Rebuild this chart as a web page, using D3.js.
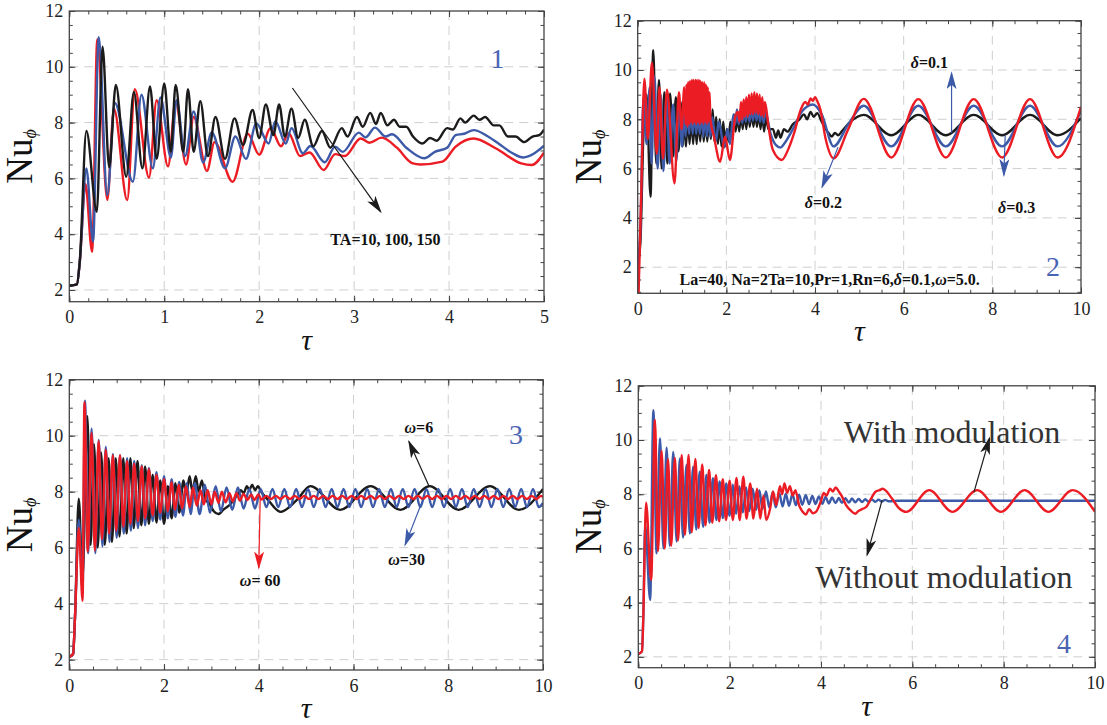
<!DOCTYPE html>
<html>
<head>
<meta charset="utf-8">
<script src="https://cdn.jsdelivr.net/npm/d3@7"></script>
<style>
  body { margin: 0; background: #fff; }
  svg  { display: block; font-family: "Liberation Serif", "Times New Roman", serif; }
</style>
</head>
<body>
<svg id="chart" width="1107" height="725"></svg>
<script>
/* ─── Data: [tau, Nu] pairs ─────────────────────────────────────────────── */

// Panel 1 : TA = 10 (black), 100 (blue), 150 (red)
const p1Black = [[0,2.15],[0.08,2.2],[0.11,3.0],[0.18,7.7],[0.29,4.8],[0.35,10.72],[0.42,6.4],[0.49,9.35],[0.60,6.06],[0.68,9.1],[0.77,6.36],[0.85,9.3],[0.92,6.7],[1.0,9.4],[1.07,6.95],[1.12,9.35],[1.2,6.95],[1.25,9.2],[1.31,6.95],[1.38,8.77],[1.46,6.8],[1.54,8.2],[1.64,6.7],[1.74,8.15],[1.83,7.2],[1.93,8.45],[2.0,7.45],[2.07,8.65],[2.15,7.55],[2.21,8.65],[2.27,7.5],[2.34,8.5],[2.41,7.45],[2.48,8.1],[2.57,7.15],[2.66,7.7],[2.75,7.1],[2.87,7.8],[2.93,7.5],[3.03,8.2],[3.09,7.85],[3.17,8.35],[3.23,7.95],[3.28,8.35],[3.35,7.9],[3.42,8.1],[3.48,7.85],[3.55,7.85],[3.62,7.5],[3.72,7.25],[3.8,7.45],[3.87,7.35],[3.98,7.8],[4.04,7.75],[4.12,8.15],[4.17,8.0],[4.26,8.25],[4.32,8.1],[4.38,8.2],[4.47,7.9],[4.53,7.9],[4.62,7.5],[4.7,7.5],[4.79,7.3],[4.88,7.5],[4.95,7.55],[5.0,7.75]];
const p1Blue  = [[0,2.15],[0.08,2.2],[0.11,3.0],[0.18,6.36],[0.25,3.73],[0.31,11.06],[0.4,5.4],[0.48,8.7],[0.67,5.88],[0.76,9.0],[0.88,6.36],[0.96,8.9],[1.07,6.75],[1.13,8.8],[1.22,6.8],[1.31,8.4],[1.41,6.57],[1.5,7.65],[1.64,6.36],[1.75,7.5],[1.86,6.7],[1.97,7.97],[2.1,7.25],[2.17,8.05],[2.28,7.25],[2.34,7.8],[2.46,6.9],[2.54,7.16],[2.69,6.58],[2.8,7.14],[2.88,6.95],[3.05,7.64],[3.12,7.47],[3.22,7.82],[3.33,7.5],[3.4,7.58],[3.55,7.1],[3.74,6.72],[3.85,6.95],[3.98,7.1],[4.07,7.55],[4.16,7.6],[4.26,7.73],[4.41,7.5],[4.52,7.25],[4.67,6.9],[4.78,6.75],[4.9,6.9],[5.0,7.17]];
const p1Red   = [[0,2.15],[0.08,2.2],[0.11,3.0],[0.17,5.8],[0.24,3.37],[0.295,10.99],[0.40,5.23],[0.47,8.5],[0.61,5.22],[0.69,9.2],[0.84,6.03],[0.92,8.8],[1.04,6.43],[1.12,8.75],[1.23,6.5],[1.31,8.2],[1.45,6.27],[1.53,7.3],[1.72,5.88],[1.88,7.6],[2.0,6.85],[2.12,7.8],[2.23,7.15],[2.31,7.62],[2.43,6.8],[2.53,6.93],[2.68,6.3],[2.8,6.87],[2.9,6.8],[3.07,7.43],[3.16,7.28],[3.29,7.46],[3.45,7.1],[3.61,6.55],[3.7,6.5],[3.93,6.6],[4.07,7.14],[4.26,7.43],[4.49,7.08],[4.76,6.54],[4.87,6.48],[5.0,6.92]];

// Panel 2 : delta = 0.1 (black), 0.2 (blue), 0.3 (red)
const p2Black = [[0,2.1],[0.06,3.0],[0.13,7.5],[0.2,9.0],[0.29,4.86],[0.35,10.8],[0.42,6.2],[0.48,9.6],[0.54,6.0],[0.6,9.1],[0.67,6.2],[0.73,9.05],[0.8,6.5],[0.86,8.9],[0.92,6.7],[0.97,8.7],[1.01,6.9],[1.05,8.4],[1.09,6.9],[1.13,8.3],[1.17,7.0],[1.21,8.3],[1.25,7.0],[1.29,8.2],[1.33,7.0],[1.37,8.2],[1.41,7.1],[1.45,8.2],[1.49,7.1],[1.53,8.1],[1.57,7.1],[1.61,8.2],[1.65,7.2],[1.69,8.4],[1.73,7.1],[1.77,8.1],[1.81,7.0],[1.85,8.0],[1.89,6.9],[1.93,7.9],[1.97,6.9],[2.01,7.6],[2.05,7.1],[2.09,7.9],[2.13,7.4],[2.17,8.2],[2.21,7.5],[2.25,8.3],[2.29,7.5],[2.33,8.3],[2.37,7.6],[2.41,8.4],[2.45,7.6],[2.49,8.4],[2.53,7.7],[2.57,8.45],[2.61,7.7],[2.65,8.4],[2.69,7.7],[2.73,8.4],[2.77,7.6],[2.81,8.3],[2.85,7.5],[2.89,8.1],[2.95,7.6],[3.05,7.6],[3.12,7.25],[3.17,7.55],[3.22,7.25],[3.3,7.6],[3.38,7.5],[3.5,7.8],[3.65,8.0],[3.75,8.2],[3.82,8.0],[3.9,8.3],[3.97,8.1],[4.05,8.25],[4.15,7.9],[4.3,7.45],[4.38,7.3],[4.45,7.45],[4.52,7.35],[4.6,7.5],[4.8,7.9],[5.1,8.18],[5.72,7.35],[6.33,8.18],[6.95,7.35],[7.58,8.18],[8.22,7.35],[8.85,8.18],[9.47,7.35],[10,8.05]];
const p2Blue  = [[0,2.1],[0.06,3.5],[0.13,8.9],[0.2,7.0],[0.27,9.3],[0.31,6.2],[0.38,9.73],[0.45,6.0],[0.52,9.0],[0.58,5.9],[0.65,8.9],[0.72,6.2],[0.8,8.6],[0.87,6.3],[0.93,8.4],[1.0,6.9],[1.04,8.4],[1.08,7.3],[1.12,8.5],[1.16,7.4],[1.20,8.5],[1.24,7.4],[1.28,8.5],[1.32,7.4],[1.36,8.4],[1.40,7.4],[1.44,8.4],[1.48,7.3],[1.52,8.3],[1.56,7.3],[1.60,8.2],[1.64,7.3],[1.68,8.1],[1.76,7.1],[1.83,7.9],[1.95,6.85],[2.03,7.6],[2.08,7.0],[2.16,8.2],[2.2,7.8],[2.24,8.4],[2.28,7.8],[2.32,8.4],[2.36,7.85],[2.40,8.45],[2.44,7.9],[2.48,8.5],[2.52,7.9],[2.56,8.5],[2.60,7.95],[2.64,8.55],[2.68,7.95],[2.72,8.5],[2.76,7.9],[2.80,8.45],[2.84,7.85],[2.88,8.3],[3.0,7.4],[3.12,6.95],[3.22,6.85],[3.3,7.0],[3.5,7.6],[3.7,8.3],[3.95,8.6],[4.15,8.2],[4.42,6.9],[4.75,7.8],[5.1,8.55],[5.72,6.9],[6.33,8.55],[6.95,6.9],[7.58,8.55],[8.22,6.9],[8.85,8.55],[9.47,6.9],[10,8.35]];
const p2Red   = [[0.02,0.95],[0.08,5.0],[0.15,9.65],[0.23,7.2],[0.32,10.3],[0.43,6.6],[0.49,9.3],[0.57,6.4],[0.66,9.2],[0.83,5.4],[0.93,9.1],[0.99,7.6],[1.05,9.3],[1.08,7.8],[1.10,9.4],[1.12,7.7],[1.14,9.5],[1.16,7.8],[1.18,9.55],[1.20,7.9],[1.22,9.6],[1.24,7.8],[1.26,9.6],[1.28,7.9],[1.30,9.6],[1.32,7.8],[1.34,9.6],[1.36,7.9],[1.38,9.6],[1.40,7.8],[1.42,9.55],[1.44,7.9],[1.46,9.5],[1.48,7.8],[1.50,9.5],[1.52,7.9],[1.54,9.4],[1.56,7.8],[1.58,9.3],[1.60,7.9],[1.62,9.1],[1.64,8.0],[1.72,7.3],[1.86,6.28],[1.97,7.3],[2.08,6.35],[2.2,8.1],[2.26,8.3],[2.30,7.9],[2.33,8.7],[2.36,8.0],[2.39,8.8],[2.42,8.1],[2.45,8.9],[2.48,8.1],[2.51,9.0],[2.54,8.2],[2.57,9.05],[2.60,8.2],[2.63,9.1],[2.66,8.25],[2.69,9.05],[2.72,8.2],[2.75,9.0],[2.78,8.15],[2.81,8.9],[2.84,8.1],[2.87,8.7],[2.95,7.7],[3.05,6.75],[3.25,6.35],[3.4,6.8],[3.53,7.45],[3.68,8.4],[3.78,8.7],[3.84,8.6],[3.9,8.85],[3.95,8.75],[4.0,8.9],[4.06,8.7],[4.12,8.4],[4.24,7.2],[4.42,6.42],[4.75,7.6],[5.1,8.83],[5.72,6.45],[6.33,8.82],[6.95,6.45],[7.58,8.82],[8.22,6.45],[8.85,8.82],[9.47,6.45],[10,8.5]];

// Panel 3 : omega = 6 (black), 30 (blue), 60 (red)
const p3Black = [[0,2.1],[0.08,2.2],[0.12,3.5],[0.2,7.75],[0.28,4.9],[0.38,10.7],[0.45,6.1],[0.52,9.7],[0.6,6.0],[0.67,9.4],[0.75,6.1],[0.83,9.2],[0.9,6.2],[0.98,9.2],[1.06,6.4],[1.14,9.2],[1.21,6.5],[1.29,9.2],[1.36,6.7],[1.44,9.1],[1.52,6.8],[1.6,8.9],[1.68,6.85],[1.76,8.6],[1.84,6.9],[1.92,8.4],[2.0,6.85],[2.08,8.2],[2.16,7.05],[2.24,8.3],[2.32,7.25],[2.41,8.4],[2.47,7.9],[2.54,8.55],[2.6,8.0],[2.67,8.55],[2.73,8.0],[2.8,8.4],[2.87,7.7],[2.95,7.6],[3.05,7.3],[3.15,7.2],[3.25,7.35],[3.4,7.55],[3.55,7.9],[3.62,8.05],[3.68,7.95],[3.75,8.2],[3.8,8.05],[3.86,8.25],[3.92,8.05],[3.98,8.2],[4.05,8.0],[4.2,7.7],[4.46,7.28],[4.8,7.7],[5.09,8.2],[5.72,7.35],[6.36,8.2],[6.99,7.35],[7.61,8.2],[8.22,7.35],[8.88,8.2],[9.49,7.35],[10,8.1]];
const p3Blue  = [[0,2.1],[0.08,2.2],[0.12,3.5],[0.2,7.0],[0.28,4.5],[0.33,11.25],[0.4,5.8],[0.47,10.25],[0.55,5.8],[0.62,9.85],[0.7,6.05],[0.77,9.6],[0.85,6.2],[0.92,9.35],[1.0,6.35],[1.07,9.3],[1.15,6.5],[1.22,9.2],[1.3,6.6],[1.37,9.1],[1.45,6.7],[1.53,8.95],[1.6,6.8],[1.68,8.85],[1.76,6.95],[1.84,8.7],[1.92,7.0],[2.0,8.55],[2.08,7.05],[2.16,8.45],[2.24,7.1],[2.32,8.35],[2.4,7.15],[2.48,8.3],[2.56,7.2],[2.65,8.3],[2.75,7.2],[2.86,8.25],[2.97,7.25],[3.09,8.2],[3.2,7.3],[3.32,8.15],[3.44,7.35],[3.56,8.15],[3.68,7.4],[3.8,8.1],[3.92,7.4],[4.04,8.1],[4.16,7.45],[4.29,8.1],[4.41,7.45],[4.54,8.1],[4.66,7.45],[4.79,8.1],[4.91,7.45],[5.04,8.1],[5.16,7.45],[5.29,8.1],[5.41,7.45],[5.54,8.1],[5.66,7.45],[5.79,8.1],[5.91,7.45],[6.04,8.1],[6.16,7.45],[6.29,8.1],[6.41,7.45],[6.54,8.1],[6.66,7.45],[6.79,8.1],[6.91,7.45],[7.04,8.1],[7.16,7.45],[7.29,8.1],[7.41,7.45],[7.54,8.1],[7.66,7.45],[7.79,8.1],[7.91,7.45],[8.04,8.1],[8.16,7.45],[8.29,8.1],[8.41,7.45],[8.54,8.1],[8.66,7.45],[8.79,8.1],[8.91,7.45],[9.04,8.1],[9.16,7.45],[9.29,8.1],[9.41,7.45],[9.54,8.1],[9.66,7.45],[9.79,8.1],[9.91,7.45],[10,7.6]];
const p3Red   = [[0,2.1],[0.08,2.2],[0.12,3.5],[0.2,6.7],[0.28,4.1],[0.32,11.2],[0.39,5.86],[0.47,10.1],[0.54,5.9],[0.62,9.8],[0.69,6.3],[0.77,9.5],[0.84,6.5],[0.92,9.3],[0.99,6.6],[1.07,9.3],[1.14,6.75],[1.22,9.1],[1.29,6.85],[1.37,9.0],[1.45,6.95],[1.53,8.9],[1.6,7.05],[1.68,8.8],[1.76,7.15],[1.84,8.6],[1.92,7.25],[2.0,8.45],[2.08,7.3],[2.16,8.35],[2.23,7.35],[2.31,8.25],[2.38,7.4],[2.46,8.2],[2.54,7.45],[2.61,8.15],[2.69,7.5],[2.77,8.05],[2.84,7.55],[2.92,8.05],[3.0,7.55],[3.07,8.0],[3.15,7.6],[3.22,8.0],[3.3,7.62],[3.38,7.95],[3.45,7.65],[3.53,7.95],[3.6,7.68],[3.68,7.92],[3.76,7.7],[3.84,7.9],[3.91,7.7],[3.99,7.9],[4.06,7.72],[4.16,7.85],[4.26,7.74],[4.36,7.85],[4.46,7.74],[4.56,7.85],[4.66,7.74],[4.76,7.85],[4.86,7.74],[4.96,7.85],[5.06,7.74],[5.16,7.85],[5.26,7.74],[5.36,7.85],[5.46,7.74],[5.56,7.85],[5.66,7.74],[5.76,7.85],[5.86,7.74],[5.96,7.85],[6.06,7.74],[6.16,7.85],[6.26,7.74],[6.36,7.85],[6.46,7.74],[6.56,7.85],[6.66,7.74],[6.76,7.85],[6.86,7.74],[6.96,7.85],[7.06,7.74],[7.16,7.85],[7.26,7.74],[7.36,7.85],[7.46,7.74],[7.56,7.85],[7.66,7.74],[7.76,7.85],[7.86,7.74],[7.96,7.85],[8.06,7.74],[8.16,7.85],[8.26,7.74],[8.36,7.85],[8.46,7.74],[8.56,7.85],[8.66,7.74],[8.76,7.85],[8.86,7.74],[8.96,7.85],[9.06,7.74],[9.16,7.85],[9.26,7.74],[9.36,7.85],[9.46,7.74],[9.56,7.85],[9.66,7.74],[9.76,7.85],[9.86,7.74],[9.96,7.85],[10,7.8]];

// Panel 4 : without modulation (blue), with modulation (red)
const p4Blue  = [[0,2.1],[0.08,2.2],[0.11,3.5],[0.15,6.86],[0.26,4.1],[0.33,11.1],[0.4,5.82],[0.475,10.06],[0.55,6.0],[0.62,9.72],[0.69,6.1],[0.765,9.56],[0.84,6.25],[0.91,9.32],[0.98,6.4],[1.055,9.08],[1.13,6.55],[1.2,9.02],[1.27,6.7],[1.345,8.83],[1.42,6.8],[1.49,8.71],[1.56,6.95],[1.635,8.59],[1.71,7.05],[1.78,8.47],[1.85,7.12],[1.925,8.4],[2.0,7.2],[2.07,8.35],[2.14,7.28],[2.215,8.3],[2.29,7.33],[2.36,8.25],[2.43,7.38],[2.505,8.2],[2.58,7.42],[2.65,8.15],[2.72,7.46],[2.795,8.1],[2.87,7.5],[2.94,8.07],[3.01,7.52],[3.085,8.04],[3.16,7.55],[3.23,8.02],[3.3,7.57],[3.375,8.0],[3.45,7.59],[3.52,7.98],[3.59,7.61],[3.665,7.96],[3.74,7.63],[3.81,7.94],[3.88,7.64],[3.955,7.92],[4.03,7.65],[4.1,7.9],[4.17,7.66],[4.245,7.88],[4.32,7.67],[4.39,7.86],[4.46,7.68],[4.535,7.85],[4.61,7.69],[4.68,7.84],[4.75,7.7],[4.825,7.83],[4.9,7.71],[4.97,7.82],[5.04,7.72],[5.115,7.81],[5.19,7.72],[5.26,7.8],[5.33,7.73],[5.405,7.79],[5.48,7.74],[5.7,7.76],[10,7.76]];
const p4Red   = [[0,2.1],[0.08,2.2],[0.11,3.5],[0.17,7.69],[0.28,4.83],[0.365,10.74],[0.43,5.9],[0.51,9.6],[0.58,6.0],[0.65,9.3],[0.72,6.1],[0.8,9.35],[0.87,6.3],[0.95,9.45],[1.02,6.5],[1.1,9.45],[1.17,6.6],[1.25,9.3],[1.32,6.75],[1.4,9.1],[1.47,6.85],[1.55,8.9],[1.62,6.95],[1.7,8.7],[1.77,7.0],[1.85,8.55],[1.92,7.05],[2.0,8.5],[2.07,7.05],[2.15,8.6],[2.22,7.05],[2.3,8.65],[2.37,7.1],[2.45,8.4],[2.52,7.1],[2.6,8.2],[2.67,7.1],[2.74,7.95],[2.8,7.05],[2.89,7.5],[2.95,8.1],[3.02,7.6],[3.1,8.3],[3.15,8.0],[3.2,8.4],[3.26,8.05],[3.32,8.3],[3.38,7.95],[3.44,8.15],[3.52,7.6],[3.6,7.35],[3.67,7.25],[3.74,7.45],[3.82,7.3],[3.89,7.35],[4.0,7.75],[4.06,8.05],[4.12,7.95],[4.2,8.2],[4.26,8.1],[4.32,8.25],[4.39,8.1],[4.45,7.95],[4.55,7.6],[4.65,7.4],[4.75,7.28],[4.82,7.38],[4.9,7.45],[5.0,7.55],[5.1,7.85],[5.2,8.1],[5.28,8.15],[5.35,8.2],[5.42,8.13],[5.55,7.85],[5.7,7.5],[5.87,7.35],[6.37,8.15],[6.88,7.35],[7.42,8.15],[7.94,7.35],[8.46,8.15],[8.98,7.35],[9.51,8.15],[10,7.35]];

// Axis tick values
const yMajorTicks  = [2, 4, 6, 8, 10, 12];
const xMajorTicks5 = [0, 1, 2, 3, 4, 5];
const xMajorTicks10 = [0, 2, 4, 6, 8, 10];

/* ─── Styling ────────────────────────────────────────────────────────────── */

const RED = '#ec1c24', BLUE = '#3c5aa8', BLACK = '#1b1b1b', NUM = '#4a64b4';

/* ─── Panel layout ───────────────────────────────────────────────────────── */

const PANELS = [
  {
    box: { left: 69.3, right: 544, top: 11, bottom: 301.7 },
    x: [0, 5], y: [1.58, 12], xMajor: xMajorTicks5, xMinor: 0.2,
    series: [[p1Red, RED], [p1Blue, BLUE], [p1Black, BLACK]],
    number: { text: '1', t: 4.51, v: 9.96 },
    notes: [{ text: 'TA=10, 100, 150', t: 3.33, v: 3.61 }],
    arrows: [{ from: [2.35, 9.24], to: [3.28, 4.8], color: BLACK }],
  },
  {
    box: { left: 637.7, right: 1081, top: 20.7, bottom: 293.3 },
    x: [0, 10], y: [0.94, 12], xMajor: xMajorTicks10, xMinor: 0.5,
    series: [[p2Black, BLACK], [p2Blue, BLUE], [p2Red, RED]],
    number: { text: '2', t: 9.37, v: 1.64 },
    notes: [
      { text: 'δ=0.1', t: 6.58, v: 10.08 },
      { text: 'δ=0.2', t: 4.19, v: 4.4 },
      { text: 'δ=0.3', t: 8.55, v: 4.2 },
      { text: 'La=40, Na=2Ta=10,Pr=1,Rn=6,δ=0.1,ω=5.0.', t: 4.33, v: 1.28 },
    ],
    arrows: [
      { from: [7.08, 7.45], to: [7.08, 9.88], color: BLUE },
      { from: [4.52, 6.87], to: [4.16, 5.25], color: BLUE },
      { from: [8.29, 7.35], to: [8.26, 5.73], color: BLUE },
    ],
  },
  {
    box: { left: 69.3, right: 543, top: 379.7, bottom: 670 },
    x: [0, 10], y: [1.63, 12], xMajor: xMajorTicks10, xMinor: 0.5,
    series: [[p3Black, BLACK], [p3Blue, BLUE], [p3Red, RED]],
    number: { text: '3', t: 9.43, v: 9.7 },
    notes: [
      { text: 'ω=6', t: 7.38, v: 10.1 },
      { text: 'ω=30', t: 7.12, v: 5.38 },
      { text: 'ω= 60', t: 4.03, v: 4.63 },
    ],
    arrows: [
      { from: [7.6, 8.18], to: [7.17, 9.79], color: BLACK },
      { from: [7.47, 7.74], to: [7.09, 6.1], color: BLUE },
      { from: [4.03, 7.78], to: [4.0, 5.28], color: RED },
    ],
  },
  {
    box: { left: 638.3, right: 1095, top: 385.8, bottom: 667.7 },
    x: [0, 10], y: [1.6, 12], xMajor: xMajorTicks10, xMinor: 0.5,
    series: [[p4Blue, BLUE], [p4Red, RED]],
    number: { text: '4', t: 9.32, v: 2.13 },
    notes: [],
    bigNotes: [
      { text: 'With modulation', t: 6.87, v: 9.89 },
      { text: 'Without modulation', t: 6.69, v: 4.54 },
    ],
    arrows: [
      { from: [7.35, 8.08], to: [7.69, 10.07], color: BLACK },
      { from: [5.34, 7.79], to: [5.01, 5.76], color: BLACK },
    ],
  },
];

/* ─── Render ─────────────────────────────────────────────────────────────── */

const svg = d3.select('#chart');
const defs = svg.append('defs');

[[BLACK, 'k'], [BLUE, 'b'], [RED, 'r']].forEach(([c, id]) => {
  defs.append('marker')
    .attr('id', 'arrow-' + id)
    .attr('viewBox', '0 0 10 10')
    .attr('refX', 9).attr('refY', 5)
    .attr('markerUnits', 'userSpaceOnUse')
    .attr('markerWidth', 18).attr('markerHeight', 10)
    .attr('orient', 'auto')
    .attr('preserveAspectRatio', 'none')
    .append('path')
    .attr('d', 'M0,0L10,5L0,10L2.5,5Z')
    .attr('fill', c);
});
const markerFor = c => c === BLUE ? 'url(#arrow-b)' : c === RED ? 'url(#arrow-r)' : 'url(#arrow-k)';

// text with greek letters in italics
function richText(sel, str) {
  str.split(/([δω])/).filter(Boolean).forEach(part => {
    const ts = sel.append('tspan').text(part);
    if (part === 'δ' || part === 'ω') ts.attr('font-style', 'italic');
  });
}

PANELS.forEach((p, i) => drawPanel(p, i));

function drawPanel(p, idx) {
  const { left, right, top, bottom } = p.box;
  const x = d3.scaleLinear().domain(p.x).range([left, right]);
  const y = d3.scaleLinear().domain(p.y).range([bottom, top]);
  const g = svg.append('g');

  // grid
  const grid = g.append('g').attr('stroke', '#cfcfcf').attr('stroke-width', 1).attr('stroke-dasharray', '9,6');
  grid.selectAll('.gx').data(p.xMajor.filter(d => d > p.x[0] && d < p.x[1])).join('line')
    .attr('x1', d => x(d)).attr('x2', d => x(d)).attr('y1', top).attr('y2', bottom);
  grid.selectAll('.gy').data(yMajorTicks.filter(d => d > p.y[0] && d < p.y[1])).join('line')
    .attr('y1', d => y(d)).attr('y2', d => y(d)).attr('x1', left).attr('x2', right);

  // minor tick values
  const nx = Math.round((p.x[1] - p.x[0]) / p.xMinor);
  const xMinor = d3.range(nx + 1).map(k => p.x[0] + k * p.xMinor);
  const yMinor = d3.range(Math.ceil(p.y[0] * 2), 25).map(k => k / 2);

  const styleAxis = a => {
    a.select('.domain').remove();
    a.selectAll('line').attr('stroke', '#444');
    a.selectAll('text').attr('font-family', '"Liberation Serif", serif').attr('font-size', 18).attr('fill', '#222');
  };

  // bottom / top
  g.append('g').attr('transform', `translate(0,${bottom})`)
    .call(d3.axisBottom(x).tickValues(xMinor).tickSize(-3.5).tickSizeOuter(0).tickFormat(''))
    .call(styleAxis);
  g.append('g').attr('transform', `translate(0,${bottom})`)
    .call(d3.axisBottom(x).tickValues(p.xMajor).tickSize(-6).tickSizeOuter(0).tickPadding(9).tickFormat(d3.format('d')))
    .call(styleAxis);
  g.append('g').attr('transform', `translate(0,${top})`)
    .call(d3.axisTop(x).tickValues(xMinor).tickSize(-3.5).tickSizeOuter(0).tickFormat(''))
    .call(styleAxis);
  g.append('g').attr('transform', `translate(0,${top})`)
    .call(d3.axisTop(x).tickValues(p.xMajor).tickSize(-6).tickSizeOuter(0).tickFormat(''))
    .call(styleAxis);
  // left / right
  g.append('g').attr('transform', `translate(${left},0)`)
    .call(d3.axisLeft(y).tickValues(yMinor).tickSize(-3.5).tickSizeOuter(0).tickFormat(''))
    .call(styleAxis);
  g.append('g').attr('transform', `translate(${left},0)`)
    .call(d3.axisLeft(y).tickValues(yMajorTicks).tickSize(-6).tickSizeOuter(0).tickPadding(6).tickFormat(d3.format('d')))
    .call(styleAxis);
  g.append('g').attr('transform', `translate(${right},0)`)
    .call(d3.axisRight(y).tickValues(yMinor).tickSize(-3.5).tickSizeOuter(0).tickFormat(''))
    .call(styleAxis);
  g.append('g').attr('transform', `translate(${right},0)`)
    .call(d3.axisRight(y).tickValues(yMajorTicks).tickSize(-6).tickSizeOuter(0).tickFormat(''))
    .call(styleAxis);

  // curves
  const clipId = 'clip' + idx;
  defs.append('clipPath').attr('id', clipId).append('rect')
    .attr('x', left).attr('y', top).attr('width', right - left).attr('height', bottom - top);

  const line = d3.line().x(d => x(d[0])).y(d => y(d[1])).curve(d3.curveMonotoneX);
  const curves = g.append('g').attr('clip-path', `url(#${clipId})`);
  p.series.forEach(([data, color]) => {
    curves.append('path').datum(data)
      .attr('d', line)
      .attr('fill', 'none')
      .attr('stroke', color)
      .attr('stroke-width', 2.4)
      .attr('stroke-linejoin', 'round');
  });

  // frame
  g.append('rect')
    .attr('x', left).attr('y', top).attr('width', right - left).attr('height', bottom - top)
    .attr('fill', 'none').attr('stroke', '#444').attr('stroke-width', 1.3);

  // axis titles
  const cy = (top + bottom) / 2;
  const ylab = g.append('text')
    .attr('transform', `translate(${left - 37},${cy}) rotate(-90)`)
    .attr('text-anchor', 'middle')
    .attr('font-size', 37).attr('fill', '#111');
  ylab.append('tspan').text('Nu');
  ylab.append('tspan').text('ϕ').attr('font-size', 18).attr('font-style', 'italic').attr('dy', 4);

  g.append('text')
    .attr('x', (left + right) / 2).attr('y', bottom + 48)
    .attr('text-anchor', 'middle')
    .attr('font-size', 30).attr('font-style', 'italic').attr('fill', '#111')
    .text('τ');

  // panel number
  g.append('text')
    .attr('x', x(p.number.t)).attr('y', y(p.number.v))
    .attr('text-anchor', 'middle')
    .attr('font-size', 28).attr('fill', NUM)
    .text(p.number.text);

  // arrows
  p.arrows.forEach(a => {
    g.append('line')
      .attr('x1', x(a.from[0])).attr('y1', y(a.from[1]))
      .attr('x2', x(a.to[0])).attr('y2', y(a.to[1]))
      .attr('stroke', a.color).attr('stroke-width', 1.2)
      .attr('marker-end', markerFor(a.color));
  });

  // annotations
  p.notes.forEach(n => {
    const t = g.append('text')
      .attr('x', x(n.t)).attr('y', y(n.v))
      .attr('text-anchor', 'middle')
      .attr('font-size', 16).attr('font-weight', 'bold').attr('fill', '#111');
    richText(t, n.text);
  });
  (p.bigNotes || []).forEach(n => {
    g.append('text')
      .attr('x', x(n.t)).attr('y', y(n.v))
      .attr('text-anchor', 'middle')
      .attr('font-size', 32).attr('fill', '#333')
      .text(n.text);
  });
}
</script>
</body>
</html>
